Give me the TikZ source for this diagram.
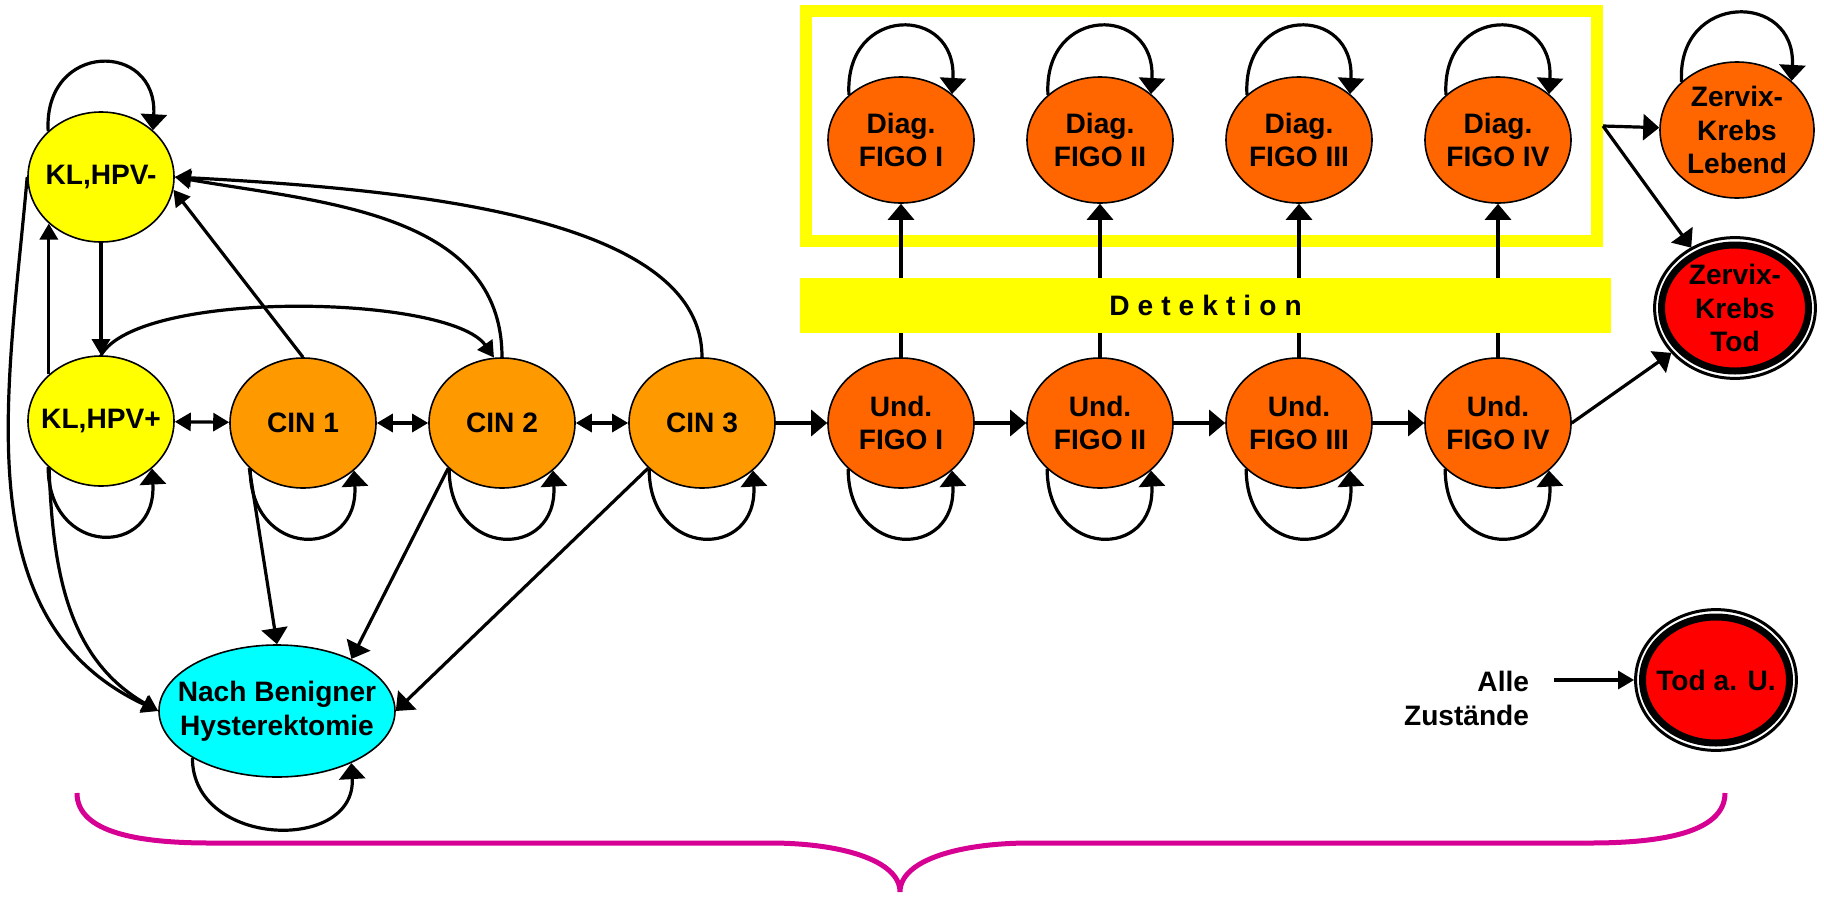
\documentclass[tikz,border=0pt]{standalone}
\usepackage{fontspec}
\setmainfont{Liberation Sans}
\usepackage{tikz}
\usetikzlibrary{arrows.meta,shapes.geometric}

\definecolor{hpvyellow}{RGB}{255,255,0}
\definecolor{cinorange}{RGB}{255,153,0}
\definecolor{figoorange}{RGB}{255,102,0}
\definecolor{deadred}{RGB}{255,0,0}
\definecolor{hystcyan}{RGB}{0,255,255}
\definecolor{bracemag}{RGB}{214,0,147}

\begin{document}
\begin{tikzpicture}[x=2.5mm,y=2.5mm,font=\fontsize{20}{24}\selectfont\bfseries,
  state/.style={ellipse,draw,line width=0.4mm,inner sep=-5mm,align=center,
    minimum width=36.5mm,minimum height=32.5mm},
  dead/.style={ellipse,draw,fill=deadred,line width=1.75mm,inner sep=-5mm,align=center,
    minimum width=36.75mm,minimum height=31.5mm,outer sep=2.1mm},
  ring/.style={line width=0.75mm},
  detbox/.style={fill=hpvyellow,inner sep=0pt,minimum width=202.75mm,minimum height=13.75mm,
    font=\fontsize{20}{24}\selectfont\bfseries\addfontfeature{LetterSpace=0.8}},
  arr/.style={line width=0.8mm,-{Triangle[length=4mm,width=6.5mm]}},
  sarr/.style={line width=0.8mm,-{Triangle[length=4mm,width=4.5mm]}},
  darr/.style={line width=0.8mm,{Triangle[length=4mm,width=4.5mm]}-{Triangle[length=4mm,width=4.5mm]}},
  brace/.style={draw=bracemag,line width=1.25mm}]
  \useasboundingbox (0,0) rectangle (182.4,-89.7);

  \node[draw=hpvyellow,line width=3mm,inner sep=0pt,outer sep=1.5mm,
    minimum width=197.75mm,minimum height=57.5mm] (fr) at (120.15,-12.6) {};

  \node[state,fill=hpvyellow] (klm) at (10.1,-17.7) {KL,HPV-};
  \node[state,fill=hpvyellow] (klp) at (10.1,-42.1) {KL,HPV+};
  \node[state,fill=cinorange] (cin1) at (30.3,-42.3) {CIN 1};
  \node[state,fill=cinorange] (cin2) at (50.2,-42.3) {CIN 2};
  \node[state,fill=cinorange] (cin3) at (70.2,-42.3) {CIN 3};
  \foreach \i/\rn/\cx in {1/I/90.1,2/II/110,3/III/129.9,4/IV/149.8} {
    \node[state,fill=figoorange] (und\i) at (\cx,-42.3) {Und.\\FIGO \rn};
    \node[state,fill=figoorange,minimum height=31.5mm] (dia\i) at (\cx,-14) {Diag.\\FIGO \rn};
  }
  \node[state,fill=figoorange,minimum width=38.5mm,minimum height=34mm] (leb) at (173.7,-13) {Zervix-\\Krebs\\Lebend};
  \node[dead] (ktod) at (173.5,-30.8) {Zervix-\\Krebs\\Tod};
  \node[dead] (tau) at (171.6,-68) {Tod a. U.};
  \draw[ring] (ktod.center) ellipse [x radius=20.1mm,y radius=17.6mm];
  \draw[ring] (tau.center) ellipse [x radius=20.1mm,y radius=17.6mm];
  \node[state,fill=hystcyan,minimum width=59mm,minimum height=33mm] (nach) at (27.7,-71.1) {Nach Benigner\\Hysterektomie};
  \node[anchor=east,align=right] (alle) at (153.4,-69.85) {Alle\\Zustände};

  \draw[sarr] (klm) -- (klp);
  \draw[sarr] (klp.north west) -- (klm.south west);
  \draw[darr] (klp) -- (cin1);
  \draw[darr] (cin1) -- (cin2);
  \draw[darr] (cin2) -- (cin3);
  \draw[arr] (cin3) -- (und1);
  \foreach \a/\b in {und1/und2,und2/und3,und3/und4} \draw[arr] (\a) -- (\b);
  \foreach \i in {1,...,4} \draw[arr] (und\i) -- (dia\i);
  \draw[sarr] (cin1.north) -- (klm.-10);
  \draw[sarr] (cin2.north) to[out=90,in=-10] (klm.east);
  \draw[sarr] (cin3.north) to[out=90,in=-3,out distance=35mm,in distance=60mm] (klm.east);
  \draw[sarr] (klp.north) to[out=60,in=125,looseness=0.5] (cin2.97);
  \draw[sarr] (klm.west) to[out=-95,in=155] (nach.west);
  \draw[sarr] (klp.222) to[out=-88,in=150] (nach.west);
  \draw[arr] (cin1.220) -- (nach.north);
  \draw[arr] (cin2.220) -- (nach.35);
  \draw[arr] (cin3.220) -- (nach.east);
  \foreach \n in {klm,dia1,dia2,dia3,dia4,leb}
    \draw[arr] (\n.139) .. controls +(-0.5,9) and +(0.5,9) .. (\n.42);
  \foreach \n in {klp,cin1,cin2,cin3,und1,und2,und3,und4}
    \draw[arr] (\n.221) .. controls +(0,-9) and +(0.5,-9) .. (\n.-43);
  \draw[arr] (nach.209) .. controls +(0,-9) and +(0.5,-9) .. (nach.-35);
  \draw[arr] (fr.east) -- (leb);
  \draw[arr] (fr.east) -- (ktod);
  \draw[arr] (und4.east) -- (ktod);
  \draw[sarr] ([xshift=5mm]alle.east |- tau) -- (tau);

  \node[detbox] (det) at (120.55,-30.55) {D e t e k t i o n};

  \draw[brace] (7.7,-79.3) .. controls (7.7,-83.3) and (14,-84.3) .. (21,-84.3) -- (77,-84.3)
    .. controls (84,-84.3) and (90,-86) .. (90,-89.2)
    .. controls (90,-86) and (96,-84.3) .. (103,-84.3) -- (159,-84.3)
    .. controls (166,-84.3) and (172.5,-83.3) .. (172.5,-79.3);
\end{tikzpicture}
\end{document}
